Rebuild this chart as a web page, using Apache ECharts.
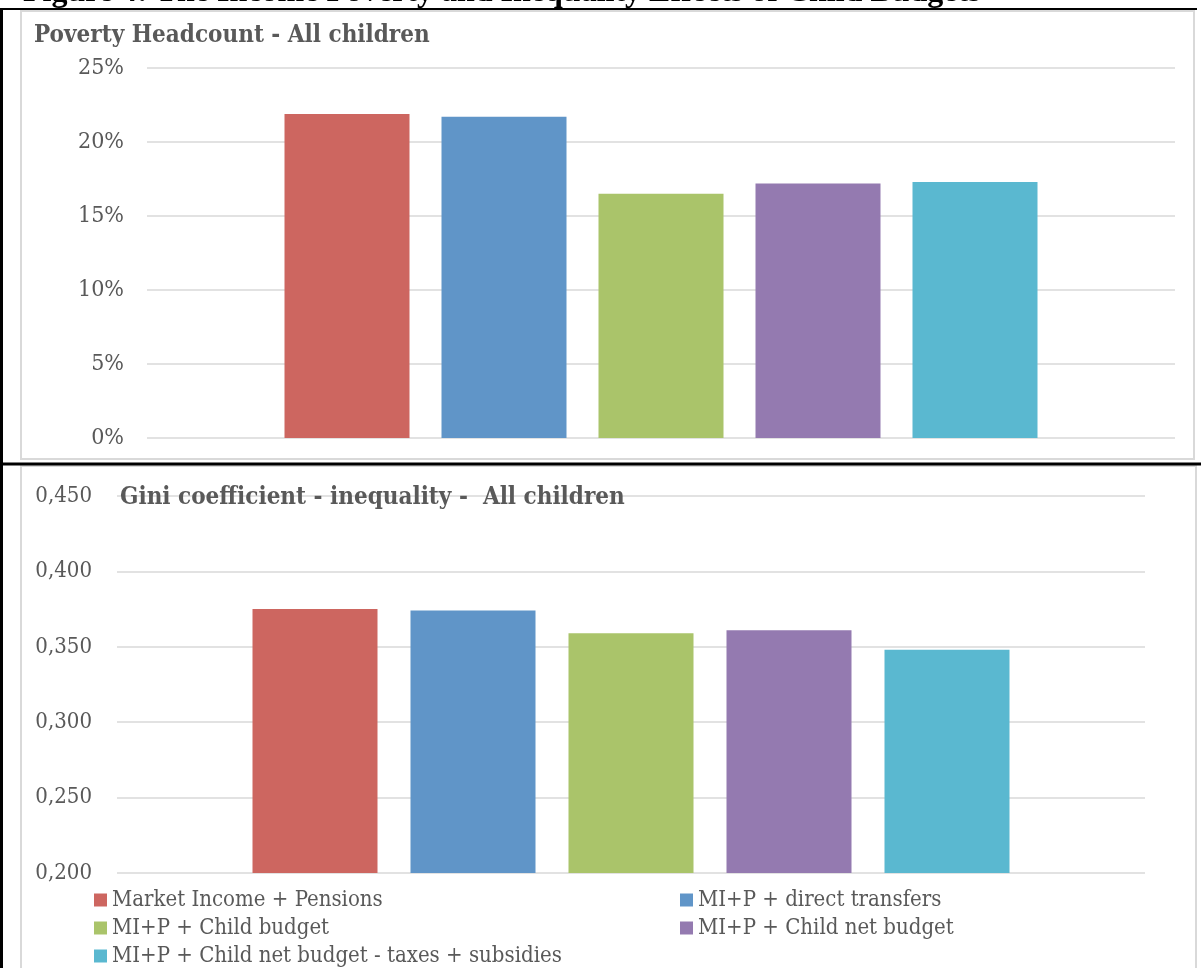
<!DOCTYPE html>
<html>
<head>
<meta charset="utf-8">
<script src="https://cdn.jsdelivr.net/npm/echarts@6/dist/echarts.min.js"></script>
<style>
html,body{margin:0;padding:0;background:#fff;}
#chart{width:1201px;height:968px;}
</style>
</head>
<body>
<div id="chart"></div>
<script>
const seriesNames = [
  'Market Income + Pensions',
  'MI+P + direct transfers',
  'MI+P + Child budget',
  'MI+P + Child net budget',
  'MI+P + Child net budget - taxes + subsidies'
];
const seriesColors = ['#CD6660', '#6095C8', '#AAC46A', '#947AB0', '#5AB8D0'];
const povertyValues = [21.9, 21.7, 16.5, 17.2, 17.3];   // % of all children
const giniValues = [0.375, 0.374, 0.359, 0.361, 0.348];
const povertyTicks = [0, 5, 10, 15, 20, 25];
const giniTicks = [0.200, 0.250, 0.300, 0.350, 0.400, 0.450];
const category = ['All children'];

const FONT = "'DejaVu Serif Condensed', 'DejaVu Serif', serif";
const GREY_TEXT = '#595959';
const GRID_LINE = '#d9d9d9';

const chart = echarts.init(document.getElementById('chart'), null, {renderer: 'canvas'});

const series = [];
seriesNames.forEach((n, i) => {
  series.push({
    name: n, type: 'bar', xAxisIndex: 0, yAxisIndex: 0,
    data: [povertyValues[i]], barWidth: 125, barGap: '25.6%',
    itemStyle: {color: seriesColors[i]}, animation: false
  });
});
seriesNames.forEach((n, i) => {
  series.push({
    name: n, type: 'bar', xAxisIndex: 1, yAxisIndex: 1,
    data: [giniValues[i]], barWidth: 125, barGap: '26.4%',
    itemStyle: {color: seriesColors[i]}, animation: false
  });
});

const legendCommon = {
  orient: 'vertical', itemWidth: 13, itemHeight: 13, itemGap: 6, padding: 0,
  icon: 'rect', selectedMode: false, height: 78,
  textStyle: {fontFamily: FONT, fontSize: 22, color: GREY_TEXT, lineHeight: 22}
};

chart.setOption({
  animation: false,
  backgroundColor: '#fff',
  title: [
    {text: 'Poverty Headcount - All children', left: 29, top: 19,
     textStyle: {fontFamily: FONT, fontSize: 24, fontWeight: 'bold', color: GREY_TEXT}},
    {text: 'Gini coefficient - inequality -  All children', left: 115, top: 481,
     textStyle: {fontFamily: FONT, fontSize: 24, fontWeight: 'bold', color: GREY_TEXT}},
    {text: 'Figure 4: The Income Poverty and Inequality Effects of Child Budgets', left: 18, top: -28,
     textStyle: {fontFamily: "'Liberation Serif', serif", fontSize: 32, fontWeight: 'bold', color: '#000'}}
  ],
  legend: [
    Object.assign({left: 94, top: 889, data: [seriesNames[0], seriesNames[2], seriesNames[4]]}, legendCommon),
    Object.assign({left: 680, top: 889, data: [seriesNames[1], seriesNames[3]]}, legendCommon)
  ],
  grid: [
    {left: 147, right: 26, top: 68, height: 370},
    {left: 117, right: 56, top: 496, height: 377}
  ],
  xAxis: [
    {type: 'category', gridIndex: 0, data: category, axisLine: {show: false}, axisTick: {show: false}, axisLabel: {show: false}},
    {type: 'category', gridIndex: 1, data: category, axisLine: {show: false}, axisTick: {show: false}, axisLabel: {show: false}}
  ],
  yAxis: [
    {type: 'value', gridIndex: 0, min: povertyTicks[0], max: povertyTicks[povertyTicks.length-1], interval: povertyTicks[1]-povertyTicks[0],
     axisLine: {show: false}, axisTick: {show: false},
     axisLabel: {formatter: '{value}%', margin: 23, fontFamily: FONT, fontSize: 23, color: GREY_TEXT, padding: [7,0,0,0]},
     splitLine: {lineStyle: {color: GRID_LINE, width: 1.5}}},
    {type: 'value', gridIndex: 1, min: giniTicks[0], max: giniTicks[giniTicks.length-1], interval: 0.05,
     axisLine: {show: false}, axisTick: {show: false},
     axisLabel: {formatter: v => v.toFixed(3).replace('.', ','), margin: 25, fontFamily: FONT, fontSize: 22, color: GREY_TEXT, padding: [2,0,0,0]},
     splitLine: {lineStyle: {color: GRID_LINE, width: 1.5}}}
  ],
  graphic: [
    {type: 'rect', shape: {x: 21, y: 11, width: 1173, height: 448}, style: {fill: 'none', stroke: GRID_LINE, lineWidth: 2}, z: -1},
    {type: 'rect', shape: {x: 21, y: 466, width: 1175, height: 520}, style: {fill: 'none', stroke: GRID_LINE, lineWidth: 2}, z: -1},
    {type: 'line', shape: {x1: 0, y1: 9, x2: 1197, y2: 9}, style: {stroke: '#000', lineWidth: 2}},
    {type: 'line', shape: {x1: 1.5, y1: 8, x2: 1.5, y2: 968}, style: {stroke: '#000', lineWidth: 3}},
    {type: 'line', shape: {x1: 0, y1: 464, x2: 1201, y2: 464}, style: {stroke: '#000', lineWidth: 3}}
  ],
  series: series
});
</script>
</body>
</html>
